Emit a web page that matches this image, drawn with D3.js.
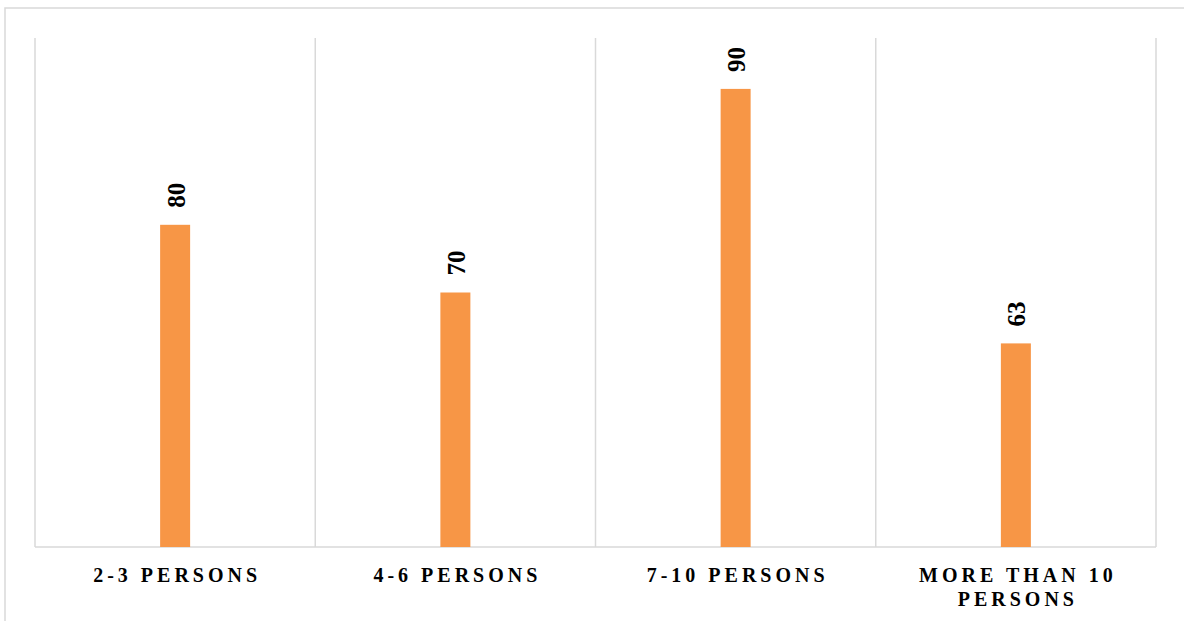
<!DOCTYPE html>
<html>
<head>
<meta charset="utf-8">
<script src="https://cdn.jsdelivr.net/npm/d3@7"></script>
<style>
  html, body { margin: 0; padding: 0; background: #fff; }
  svg { display: block; }
</style>
</head>
<body>
<svg id="chart" width="1184" height="621"></svg>
<script>
// Data
const categories = ["2-3 PERSONS", "4-6 PERSONS", "7-10 PERSONS", "MORE THAN 10 PERSONS"];
const categoryLines = [["2-3 PERSONS"], ["4-6 PERSONS"], ["7-10 PERSONS"], ["MORE THAN 10", "PERSONS"]];
const barValues = [63.3, 50, 90, 40];     // bar heights (hidden axis 0-100)
const dataLabels = [80, 70, 90, 63];      // printed data labels

const svg = d3.select("#chart");
const W = 1184, H = 621;
const plot = { left: 35, right: 1156, top: 38, bottom: 547 };
const grid = "#d9d9d9";

// outer chart border (extends past the right/bottom edge)
svg.append("rect")
  .attr("x", 5).attr("y", 8)
  .attr("width", 1300).attr("height", 800)
  .attr("fill", "none").attr("stroke", grid).attr("stroke-width", 1.5);

const x = d3.scaleBand().domain(categories).range([plot.left, plot.right]).paddingInner(0).paddingOuter(0);
const y = d3.scaleLinear().domain([0, 100]).range([plot.bottom, plot.top]);

// vertical category separators
const bounds = categories.map(c => x(c)).concat([x(categories[categories.length - 1]) + x.bandwidth()]);
svg.append("g").selectAll("line").data(bounds).join("line")
  .attr("x1", d => d).attr("x2", d => d)
  .attr("y1", plot.top).attr("y2", plot.bottom)
  .attr("stroke", grid).attr("stroke-width", 1.5);

// baseline
svg.append("line")
  .attr("x1", plot.left).attr("x2", plot.right)
  .attr("y1", plot.bottom).attr("y2", plot.bottom)
  .attr("stroke", grid).attr("stroke-width", 1.5);

const barW = 30;
svg.append("g").selectAll("rect").data(categories).join("rect")
  .attr("x", (c) => x(c) + x.bandwidth() / 2 - barW / 2)
  .attr("y", (c, i) => y(barValues[i]))
  .attr("width", barW)
  .attr("height", (c, i) => y(0) - y(barValues[i]))
  .attr("fill", "#F79646");

// data labels rotated
svg.append("g").selectAll("text").data(categories).join("text")
  .attr("transform", (c, i) => `translate(${x(c) + x.bandwidth() / 2 + 1},${y(barValues[i]) - 17}) rotate(-90)`)
  .attr("text-anchor", "start")
  .attr("dominant-baseline", "central")
  .style("font-family", "'Liberation Serif', 'Times New Roman', serif")
  .style("font-weight", "bold")
  .style("font-size", "25px")
  .attr("fill", "#000")
  .text((c, i) => dataLabels[i]);

// category labels
const lab = svg.append("g");
categories.forEach((c, i) => {
  const t = lab.append("text")
    .attr("x", x(c) + x.bandwidth() / 2 + 2)
    .attr("y", 581.5)
    .attr("text-anchor", "middle")
    .style("font-family", "'Liberation Serif', 'Times New Roman', serif")
    .style("font-weight", "bold")
    .style("font-size", "20px")
    .style("letter-spacing", "4px")
    .attr("fill", "#000");
  categoryLines[i].forEach((ln, j) => {
    t.append("tspan")
      .attr("x", x(c) + x.bandwidth() / 2 + 2)
      .attr("dy", j === 0 ? 0 : 24)
      .text(ln);
  });
});
</script>
</body>
</html>
